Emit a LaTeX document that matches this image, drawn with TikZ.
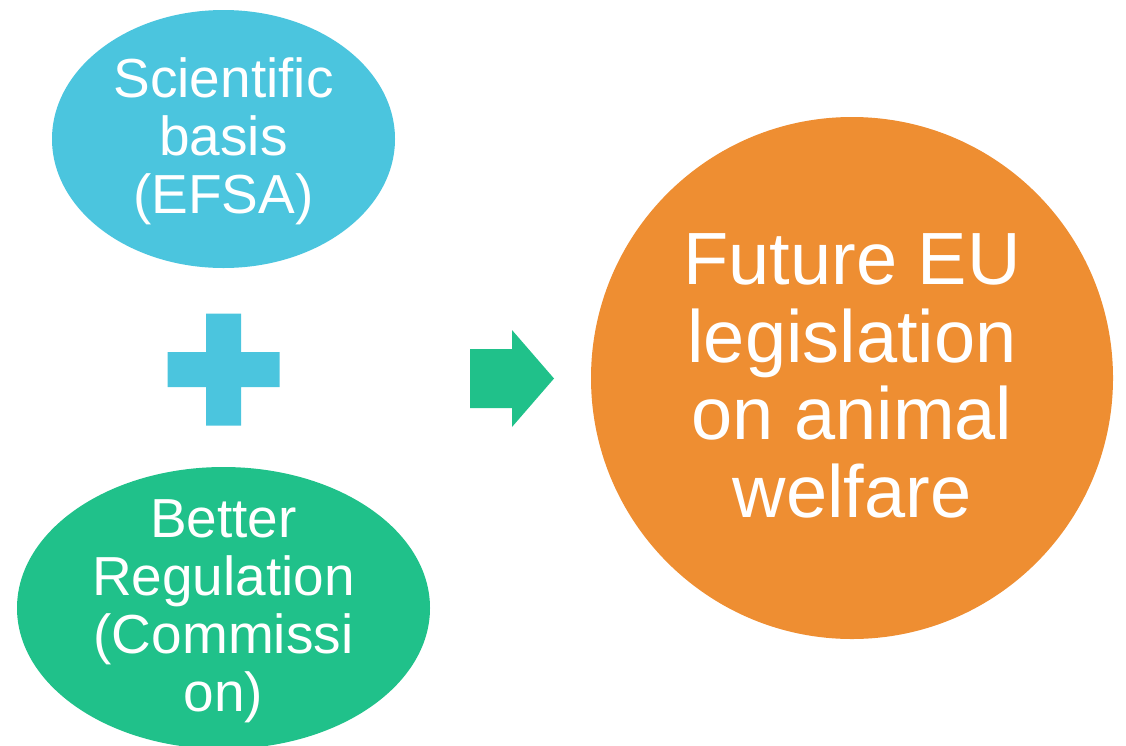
\documentclass[tikz,border=0pt]{standalone}
\usepackage{fontspec}
\setmainfont{Liberation Sans}
\usepackage{xcolor}
\usepackage{tikz}
\usetikzlibrary{shapes.geometric}
\definecolor{efsablue}{HTML}{4BC5DE}
\definecolor{regugreen}{HTML}{20C18A}
\definecolor{laworange}{HTML}{EE8E32}

\begin{document}
\begin{tikzpicture}[
    x=1pt, y=-1pt,
    % Bubble style, text goes in a separate node
    bubble/.style={
        ellipse,
        draw=none,
        inner sep=0pt
    },
    bubbletext/.style={
        align=center,
        text=white,
        inner sep=0pt,
        font=\fontsize{55}{58}\selectfont
    },
    bigtext/.style={
        align=center,
        text=white,
        inner sep=0pt,
        font=\fontsize{74}{77.5}\selectfont
    }
]
    \useasboundingbox (0,0) rectangle (1126,745);

    % Bubbles on the left
    \node[bubble, fill=efsablue, minimum width=343pt, minimum height=258pt] (efsa) at (223.5,139) {};
    \node[bubbletext] (efsatext) at ([yshift=-2pt]efsa.center) {Scientific\\basis\\(EFSA)};

    \node[bubble, fill=regugreen, minimum width=413pt, minimum height=282pt] (regu) at (223.5,608) {};
    \node[bubbletext] (regutext) at ([yshift=-3pt]regu.center) {Better\\Regulation\\(Commissi\\on)};

    % Result circle
    \node[circle, fill=laworange, inner sep=0pt, minimum size=522pt] (laws) at (852,378) {};
    \node[bigtext] (lawstext) at ([yshift=2pt]laws.center) {Future EU\\legislation\\on animal\\welfare};

    % Plus sign and block arrow
    \fill[efsablue] (167.5,352) rectangle (279.5,387) (206,313.5) rectangle (241,425.5);
    \fill[regugreen] (470,349) -- (512,349) -- (512,330) -- (554,378.5) -- (512,427) -- (512,408) -- (470,408) -- cycle;

\end{tikzpicture}
\end{document}
